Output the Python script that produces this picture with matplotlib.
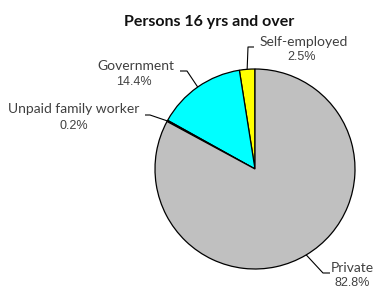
import matplotlib
matplotlib.use("Agg")
import matplotlib.pyplot as plt
import numpy as np

# data
labels = ["Self-employed", "Government", "Unpaid family worker", "Private"]
shares = [2.5, 14.4, 0.2, 82.8]
colors = ["#ffff00", "#00ffff", "#33cc33", "#c0c0c0"]

W, H = 374, 291
fig = plt.figure(figsize=(W / 100, H / 100), dpi=100, facecolor="white")
ax = fig.add_axes([0, 0, 1, 1])

cx, cy, r = 255, H - 169, 100
wedges, _ = ax.pie(shares, colors=colors, startangle=90, counterclock=True,
                   center=(cx, cy), radius=r, normalize=True,
                   wedgeprops=dict(edgecolor="black", linewidth=0.9))
ax.set_xlim(0, W)
ax.set_ylim(0, H)
ax.set_aspect("equal")
ax.set_axis_off()

ax.text(209, H - 22, "Persons 16 yrs and over", ha="center", va="center",
        fontsize=11.5, family="Lato", weight="bold", color="#111111")

# leader lines: elbow, end, label pos, value pos (pixels from top-left)
leaders = [
    ((248, 47), (254, 47), (304, 42), (302, 57)),
    ((187, 71), (180, 71), (136, 66), (134, 82)),
    ((150, 115), (145, 115), (74, 109), (74, 126)),
    ((323, 273), (330, 273), (352, 268), (352, 283)),
]
tc = "#404040"
for w, lab, val, (elb, end, lp, vp) in zip(wedges, labels, shares, leaders):
    mid = np.deg2rad((w.theta1 + w.theta2) / 2)
    px, py = cx + r * np.cos(mid), cy + r * np.sin(mid)
    ax.plot([px, elb[0], end[0]], [py, H - elb[1], H - end[1]],
            color="black", lw=0.8, solid_capstyle="butt")
    ax.text(lp[0], H - lp[1], lab, ha="center", va="center",
            fontsize=10, family="Lato", color=tc)
    ax.text(vp[0], H - vp[1], f"{val}%", ha="center", va="center",
            fontsize=9, family="Liberation Sans", color=tc)

fig.savefig("out.png", dpi=100, facecolor="white")
